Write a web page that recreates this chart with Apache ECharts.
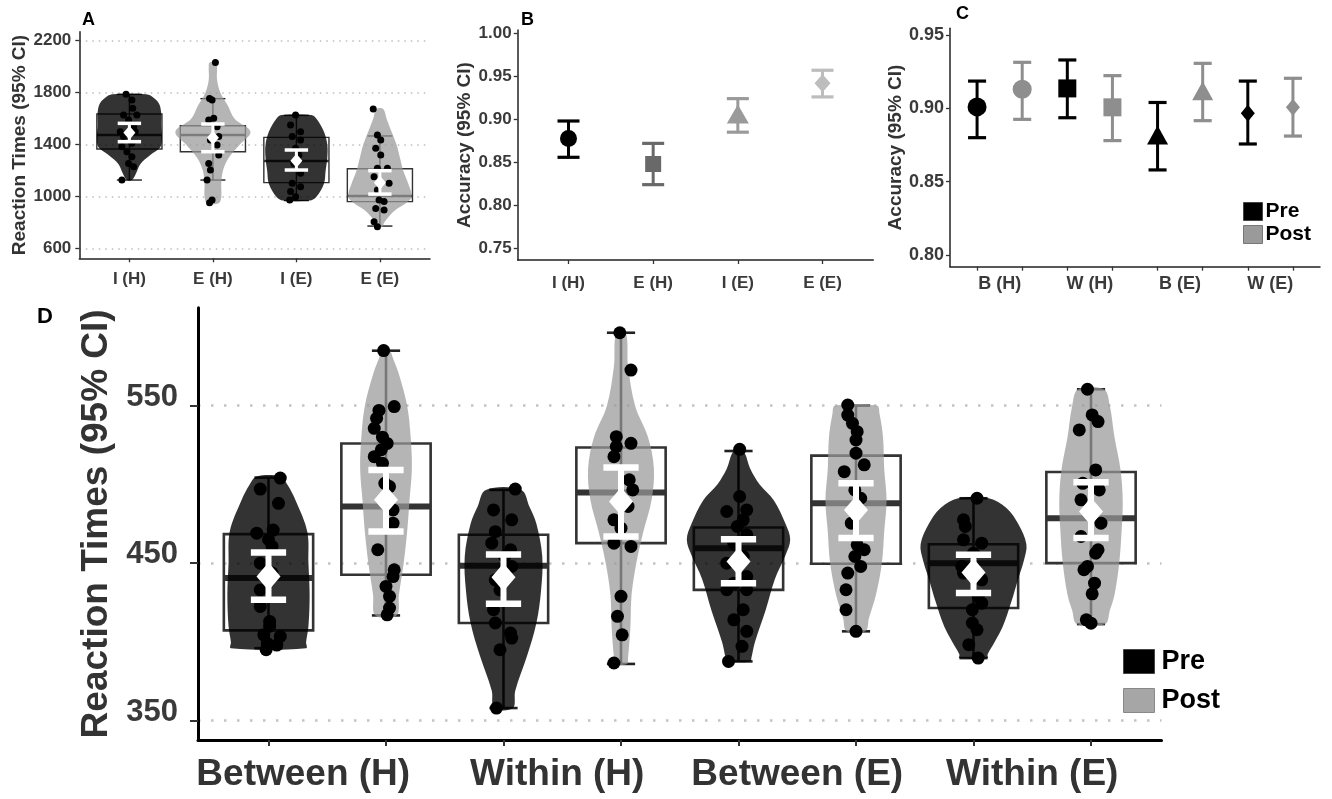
<!DOCTYPE html>
<html><head><meta charset="utf-8">
<script src="https://cdn.jsdelivr.net/npm/echarts@6/dist/echarts.min.js"></script>
<style>html,body{margin:0;padding:0;background:#fff}#c{width:1332px;height:799px}</style>
</head><body><div id="c"></div>
<script>
// ---------------- DATA ----------------
// Panel A
const aCategories = ['I (H)', 'E (H)', 'I (E)', 'E (E)'];
const aYTicks = [600, 1000, 1400, 1800, 2200];
// [q1, median, q3, lowerWhisker, upperWhisker]
const aBoxStats = [
  [1367, 1474, 1636, 1128, 1787],
  [1346, 1474, 1546, 1128, 1754],
  [1108, 1274, 1456, 970, 1625],
  [962, 1005, 1215, 774, 1467]
];
// [mean, ciLow, ciHigh]
const aMeanCI = [
  [1492, 1423, 1564],
  [1454, 1346, 1559],
  [1277, 1205, 1359],
  [1108, 1020, 1200]
];
// violin outline: [value, half width (category units)]
const aViolins = [
  [[1128,0.03],[1180,0.08],[1250,0.13],[1320,0.25],[1380,0.37],[1450,0.39],[1550,0.38],[1650,0.38],[1720,0.35],[1770,0.27],[1787,0.2]],
  [[950,0.07],[1000,0.1],[1100,0.1],[1200,0.12],[1300,0.19],[1400,0.32],[1500,0.45],[1600,0.26],[1700,0.18],[1800,0.09],[1900,0.05],[2000,0.05],[2033,0.04]],
  [[970,0.16],[1000,0.24],[1100,0.33],[1200,0.35],[1300,0.37],[1400,0.37],[1500,0.33],[1600,0.24],[1628,0.18]],
  [[769,0.03],[800,0.05],[850,0.11],[900,0.19],[950,0.31],[1000,0.38],[1100,0.34],[1200,0.28],[1300,0.24],[1400,0.2],[1500,0.14],[1600,0.08],[1674,0.04]]
];
// individual points: [jitter offset, value]
const aPoints = [
  [[-0.04,1787],[0.03,1744],[0.04,1680],[-0.07,1628],[0.09,1628],[-0.01,1590],[0.05,1538],[0.07,1500],[-0.11,1500],[-0.07,1462],[0.03,1410],[-0.09,1385],[-0.03,1346],[0.03,1308],[-0.01,1256],[0.05,1231],[-0.09,1128]],
  [[0.03,2033],[-0.04,1756],[-0.01,1744],[0.01,1603],[-0.05,1590],[0.05,1538],[0.07,1462],[-0.03,1436],[0.05,1398],[0.07,1321],[-0.05,1256],[-0.03,1205],[-0.07,1128],[-0.01,974],[-0.04,954]],
  [[-0.01,1628],[-0.07,1551],[0.05,1500],[-0.05,1462],[0.05,1436],[-0.01,1372],[0.03,1321],[-0.03,1256],[0.05,1180],[-0.05,1103],[0.05,1077],[-0.07,1039],[-0.01,1000],[-0.08,974]],
  [[-0.08,1674],[-0.03,1474],[0.01,1436],[-0.05,1372],[0.01,1321],[-0.03,1218],[0.09,1218],[-0.07,1154],[0.11,1103],[-0.03,1051],[-0.01,974],[0.05,962],[-0.05,910],[0.05,897],[-0.07,808],[-0.03,769]]
];

// Panel B
const bCategories = ['I (H)', 'E (H)', 'I (E)', 'E (E)'];
const bYTicks = [0.75, 0.80, 0.85, 0.90, 0.95, 1.00];
const bMean = [0.8777, 0.848, 0.906, 0.942];
const bLow  = [0.8558, 0.824, 0.885, 0.926];
const bHigh = [0.898, 0.872, 0.924, 0.957];

// Panel C
const cGroups = ['B (H)', 'W (H)', 'B (E)', 'W (E)'];
const cYTicks = [0.80, 0.85, 0.90, 0.95];
const cPreMean  = [0.901, 0.9136, 0.8818, 0.8966];
const cPreLow   = [0.880, 0.8936, 0.858, 0.8757];
const cPreHigh  = [0.9186, 0.933, 0.904, 0.9186];
const cPostMean = [0.913, 0.9007, 0.912, 0.9007];
const cPostLow  = [0.8925, 0.878, 0.8916, 0.8811];
const cPostHigh = [0.9314, 0.9223, 0.9307, 0.9205];

// Panel D  (order: Between(H) Pre, Post, Within(H) Pre, Post, Between(E) Pre, Post, Within(E) Pre, Post)
const dGroups = ['Between (H)', 'Within (H)', 'Between (E)', 'Within (E)'];
const dPhases = ['Pre', 'Post'];
const dYTicks = [350, 450, 550];
const dBoxStats = [
  [407.3, 440.5, 468.4, 396, 504.3],
  [442.6, 485.9, 526, 416.8, 584.9],
  [412, 448.3, 468, 358, 496.5],
  [462.7, 494.8, 523.4, 386, 596.3],
  [433, 459.5, 472.6, 387.6, 521.2],
  [449.6, 488, 518.3, 406.7, 550],
  [421.5, 450, 462, 389.7, 491.2],
  [450, 478.5, 507.9, 411.3, 560.4]
];
const dMeanCI = [
  [441.5, 426.7, 456.8],
  [490.2, 470.1, 509.2],
  [441, 424.2, 455.5],
  [489.1, 466.9, 510.7],
  [451, 437.3, 465.2],
  [483.8, 465.9, 500.7],
  [444.1, 431, 455.3],
  [482.8, 465.9, 501.4]
];
const dViolins = [
  [[396,0.32],[400,0.32],[410,0.34],[430,0.35],[450,0.34],[470,0.33],[490,0.23],[500,0.16],[505,0.1]],
  [[416.8,0.09],[430,0.11],[450,0.15],[470,0.18],[490,0.2],[510,0.22],[530,0.21],[550,0.18],[570,0.11],[580,0.06],[585,0.03]],
  [[358,0.08],[369,0.1],[391,0.2],[412,0.28],[433,0.32],[454,0.33],[475,0.28],[486,0.22],[496.5,0.15]],
  [[386,0.05],[390,0.06],[410,0.08],[430,0.09],[450,0.13],[470,0.19],[490,0.26],[510,0.28],[530,0.23],[550,0.12],[575,0.06],[596.3,0.04]],
  [[387.6,0.1],[390,0.11],[400,0.14],[420,0.23],[440,0.31],[455,0.4],[465,0.44],[475,0.4],[490,0.3],[500,0.18],[510,0.1],[521.2,0.04]],
  [[406.7,0.08],[415,0.11],[430,0.17],[450,0.22],[470,0.24],[490,0.26],[510,0.24],[530,0.23],[545,0.2],[550,0.18]],
  [[389.7,0.12],[392,0.12],[400,0.18],[410,0.25],[425,0.32],[440,0.38],[452,0.43],[462,0.45],[475,0.38],[485,0.28],[491.2,0.13]],
  [[411.3,0.12],[420,0.16],[430,0.2],[450,0.24],[470,0.26],[490,0.27],[510,0.25],[530,0.2],[550,0.16],[560.4,0.11]]
];
const dPoints = [
  [[0.1,504],[-0.07,497],[0.085,488],[-0.1,469],[0.04,471],[0,465],[0.03,460.6],[-0.07,450],[0.03,443.7],[-0.07,433],[-0.07,422.5],[0.01,413],[0.01,410],[-0.04,404.5],[0.1,403.5],[-0.01,399],[0.07,398],[-0.02,395]],
  [[-0.02,585],[0.07,549.4],[-0.06,547],[-0.08,542],[-0.1,535.6],[-0.03,530],[0.01,526],[-0.04,522],[-0.1,517.6],[-0.03,513.4],[-0.01,500.7],[0.03,498.6],[0.06,483.8],[0.06,475.4],[-0.07,458.5],[0.07,445.8],[0.06,441.5],[0,435.2],[0.03,428.9],[0.03,421.5],[0.01,417.2]],
  [[0.1,497],[-0.085,483.8],[0.07,477.5],[-0.07,470],[-0.1,462.7],[0.06,458.5],[0.01,454.2],[0.07,447.9],[-0.07,439.4],[-0.03,433],[-0.085,420.4],[-0.07,412],[0.06,405.6],[0.07,402.4],[-0.03,395],[-0.06,358]],
  [[-0.01,596.3],[0.085,572.6],[-0.04,530.3],[0.085,526.1],[-0.04,524],[-0.06,517.6],[0.07,502.9],[0.1,496.5],[0.06,486],[-0.06,477.5],[0,472.2],[-0.06,462.7],[0.085,460.6],[0,428.9],[-0.03,416.2],[0.01,404.5],[-0.06,386.6]],
  [[0.01,522.3],[0.01,492.3],[0.07,483.8],[-0.1,482.8],[0.04,477.5],[-0.01,473.3],[0.07,468],[-0.04,462.7],[0.04,454.2],[-0.1,450],[0.07,441.5],[-0.04,437.3],[-0.1,433.1],[0.07,433.1],[0.04,420.4],[-0.04,414],[0.07,406.7],[0.03,397.2],[-0.085,387.6]],
  [[-0.07,550.4],[-0.07,544],[-0.03,538.8],[0.01,533.5],[0,528.2],[0,519.8],[0.07,512.4],[-0.1,508.1],[-0.01,496.5],[0.04,491.2],[-0.04,475.4],[0.01,461.6],[0.07,458.5],[-0.01,454.2],[0.04,447.9],[-0.07,443.7],[-0.085,433.1],[-0.085,420.4],[0,406.7]],
  [[0.03,491.2],[-0.085,477.5],[-0.07,473.3],[-0.085,464.8],[0.07,462.7],[0,456.3],[-0.1,447.9],[-0.085,443.7],[0.07,439.4],[0.04,428.9],[0.07,424.6],[-0.01,420.4],[-0.01,412],[0.03,407.7],[-0.04,398.2],[0.04,389.7]],
  [[-0.03,560.4],[0.01,544.1],[0.06,539.9],[-0.1,534.6],[0.04,509.2],[-0.07,500.7],[0.07,496.5],[-0.085,490.2],[0.085,475.4],[-0.085,466.9],[0.06,458.5],[0.04,456.3],[-0.03,447.9],[-0.06,445.8],[0.03,437.3],[0.01,430.5],[-0.04,414],[0,411.9]]
];

// ---------------- STYLE ----------------
const FONT = "'Liberation Sans', Arial, Helvetica, sans-serif";
const DARK_FILL = 'rgba(0,0,0,0.8)';
const LIGHT_FILL = 'rgba(152,152,152,0.72)';
const aIsDark = i => i % 2 === 0;
const dIsDark = i => i % 2 === 0;
const bColors = ['#000000', '#696969', '#9a9a9a', '#bdbdbd'];
const bSymbols = [['circle', 17], ['rect', 16], ['triangle', [22, 19]], ['diamond', [16, 18]]];
const cSymbols = [['circle', 19], ['rect', 18], ['triangle', [21, 19]], ['diamond', [14, 17]]];
const cPreColor = '#000000', cPostColor = '#8e8e8e';
const dLabelShift = [-24, -5, 0, 0];

// ---------------- RENDERERS ----------------
function seg(a, b, stroke, lw) {
  return { type: 'line', shape: { x1: a[0], y1: a[1], x2: b[0], y2: b[1] }, style: { stroke, lineWidth: lw } };
}
function boxRenderer(stats, halfW, capHalf, lw, medW) {
  return function (params, api) {
    const x = api.value(0), i = api.value(2);
    const s = stats[i];
    const tl = api.coord([x - halfW, s[2]]), br = api.coord([x + halfW, s[0]]);
    const children = [
      seg(api.coord([x, s[4]]), api.coord([x, s[3]]), '#222', lw),
      seg(api.coord([x - capHalf, s[4]]), api.coord([x + capHalf, s[4]]), '#222', lw),
      seg(api.coord([x - capHalf, s[3]]), api.coord([x + capHalf, s[3]]), '#222', lw),
      { type: 'rect', shape: { x: tl[0], y: tl[1], width: br[0] - tl[0], height: br[1] - tl[1] },
        style: { fill: 'none', stroke: '#333', lineWidth: lw } },
      seg(api.coord([x - halfW, s[1]]), api.coord([x + halfW, s[1]]), '#333', medW)
    ];
    return { type: 'group', children };
  };
}
function violinRenderer(profiles, fill) {
  return function (params, api) {
    const x = api.value(0), i = api.value(2);
    const prof = profiles[i];
    const pts = [];
    for (let k = 0; k < prof.length; k++) pts.push(api.coord([x + prof[k][1], prof[k][0]]));
    for (let k = prof.length - 1; k >= 0; k--) pts.push(api.coord([x - prof[k][1], prof[k][0]]));
    return { type: 'polygon', shape: { points: pts, smooth: 0.35 }, style: { fill: fill, stroke: null } };
  };
}
function ciRenderer(capHalf, vW, capW, colorFn) {
  return function (params, api) {
    const x = api.value(0), lo = api.value(1), hi = api.value(2), i = api.value(3);
    const c = colorFn(i);
    return { type: 'group', children: [
      seg(api.coord([x, lo]), api.coord([x, hi]), c, vW),
      seg(api.coord([x - capHalf, hi]), api.coord([x + capHalf, hi]), c, capW),
      seg(api.coord([x - capHalf, lo]), api.coord([x + capHalf, lo]), c, capW)
    ] };
  };
}

// ---------------- AXES ----------------
const tickLabel = (size) => ({ fontFamily: FONT, fontWeight: 'bold', fontSize: size, color: '#3a3a3a' });
function xAxisCfg(gridIndex, max, tickVals, labelVals, fmt, o) {
  return {
    type: 'value', gridIndex, min: 0.4, max,
    axisLine: { show: true, onZero: false, lineStyle: { color: o.axisColor, width: o.axisW } },
    axisTick: { show: true, customValues: tickVals, length: o.tickLen, lineStyle: { color: '#333', width: o.tickW } },
    axisLabel: Object.assign({ customValues: labelVals, formatter: fmt, margin: o.margin }, tickLabel(o.font), o.extra || {}),
    splitLine: { show: false }
  };
}
function yAxisCfg(gridIndex, min, max, ticks, fmt, o) {
  return {
    type: 'value', gridIndex, min, max,
    name: o.name, nameLocation: 'middle', nameRotate: 90, nameGap: o.nameGap,
    nameTextStyle: { fontFamily: FONT, fontWeight: 'bold', fontSize: o.nameSize, color: '#333' },
    axisLine: { show: true, onZero: false, lineStyle: { color: o.axisColor, width: o.axisW } },
    axisTick: { show: true, customValues: ticks, length: o.tickLen, lineStyle: { color: '#333', width: o.tickW } },
    axisLabel: Object.assign({ customValues: ticks, formatter: fmt, margin: o.margin }, tickLabel(o.font), o.extra || {}),
    splitLine: o.split ? { show: true, lineStyle: o.split } : { show: false }
  };
}

const catIdx = (v, base, step) => Math.round((v - base) / step);
const dRich = {};
dLabelShift.forEach((s, g) => {
  dRich['s' + g] = { fontFamily: FONT, fontWeight: 'bold', fontSize: 37, color: '#333',
    padding: s < 0 ? [0, -2 * s, 0, 0] : [0, 0, 0, 2 * s] };
});

const option = {
  animation: false,
  backgroundColor: '#fff',
  textStyle: { fontFamily: FONT },
  title: [
    { text: 'A', left: 82, top: 11, padding: 0, textStyle: { fontFamily: FONT, fontWeight: 'bold', fontSize: 18, color: '#000' } },
    { text: 'B', left: 521, top: 11, padding: 0, textStyle: { fontFamily: FONT, fontWeight: 'bold', fontSize: 18, color: '#000' } },
    { text: 'C', left: 956, top: 5, padding: 0, textStyle: { fontFamily: FONT, fontWeight: 'bold', fontSize: 18, color: '#000' } },
    { text: 'D', left: 37, top: 306, padding: 0, textStyle: { fontFamily: FONT, fontWeight: 'bold', fontSize: 22, color: '#000' } }
  ],
  legend: [
    { left: 1243, top: 201, orient: 'vertical', padding: 0, itemGap: 2, itemWidth: 19, itemHeight: 18, icon: 'rect',
      selectedMode: false,
      textStyle: { fontFamily: FONT, fontWeight: 'bold', fontSize: 21, color: '#000', padding: [0, 0, 0, -2] },
      data: [
        { name: dPhases[0], itemStyle: { color: '#000', borderColor: '#444', borderWidth: 1 } },
        { name: dPhases[1], itemStyle: { color: '#9a9a9a', borderColor: '#777', borderWidth: 1 } }
      ] },
    { left: 1123, top: 648, orient: 'vertical', padding: 0, itemGap: 12, itemWidth: 31, itemHeight: 24, icon: 'rect',
      selectedMode: false,
      textStyle: { fontFamily: FONT, fontWeight: 'bold', fontSize: 27, color: '#000', padding: [0, 0, 0, 2] },
      data: [
        { name: dPhases[0], itemStyle: { color: '#000', borderColor: '#444', borderWidth: 1 } },
        { name: dPhases[1], itemStyle: { color: '#a6a6a6', borderColor: '#888', borderWidth: 1 } }
      ] }
  ],
  grid: [
    { left: 79.3, top: 31.7, width: 350.7, height: 226.6 },
    { left: 517.7, top: 30, width: 355.6, height: 230 },
    { left: 950, top: 28.3, width: 370, height: 238.4 },
    { left: 198, top: 307.7, width: 963.5, height: 432.3 }
  ],
  xAxis: [
    xAxisCfg(0, 4.6, [1, 2, 3, 4], [1, 2, 3, 4], v => aCategories[Math.round(v) - 1],
      { axisColor: '#222', axisW: 1.5, tickLen: 4, tickW: 1.3, margin: 13, font: 17 }),
    xAxisCfg(1, 4.6, [1, 2, 3, 4], [1, 2, 3, 4], v => bCategories[Math.round(v) - 1],
      { axisColor: '#222', axisW: 1.5, tickLen: 4, tickW: 1.3, margin: 15, font: 17 }),
    xAxisCfg(2, 8.6, [1, 2, 3, 4, 5, 6, 7, 8], [1.5, 3.5, 5.5, 7.5], v => cGroups[catIdx(v, 1.5, 2)],
      { axisColor: '#222', axisW: 1.5, tickLen: 4, tickW: 1.3, margin: 8, font: 18 }),
    xAxisCfg(3, 8.6, [1, 2, 3, 4, 5, 6, 7, 8], [1.5, 3.5, 5.5, 7.5],
      v => { const g = catIdx(v, 1.5, 2); return '{s' + g + '|' + dGroups[g] + '}'; },
      { axisColor: '#000', axisW: 3, tickLen: 6, tickW: 2, margin: 16, font: 37, extra: { color: '#333', rich: dRich } })
  ],
  yAxis: [
    yAxisCfg(0, 526, 2269, aYTicks, v => String(v),
      { name: 'Reaction Times (95% CI)', nameGap: 46, nameSize: 19, axisColor: '#222', axisW: 1.5, tickLen: 4, tickW: 1.3, margin: 8, font: 17,
        split: { color: '#bdbdbd', width: 1.5, type: [1.5, 5] } }),
    yAxisCfg(1, 0.7364, 1.0038, bYTicks, v => v.toFixed(2),
      { name: 'Accuracy (95% CI)', nameGap: 37, nameSize: 19, axisColor: '#222', axisW: 1.5, tickLen: 4, tickW: 1.3, margin: 6, font: 17 }),
    yAxisCfg(2, 0.792, 0.9546, cYTicks, v => v.toFixed(2),
      { name: 'Accuracy (95% CI)', nameGap: 36, nameSize: 19, axisColor: '#222', axisW: 1.5, tickLen: 4, tickW: 1.3, margin: 6, font: 18 }),
    yAxisCfg(3, 337.7, 612.2, dYTicks, v => '{t|' + v + '}',
      { name: 'Reaction Times (95% CI)', nameGap: 79, nameSize: 37, axisColor: '#000', axisW: 3, tickLen: 8, tickW: 2, margin: 20, font: 31,
        extra: { rich: { t: { fontFamily: FONT, fontWeight: 'bold', fontSize: 31, color: '#3a3a3a', padding: [0, 0, 17, 0] } } },
        split: { color: '#c4c4c4', width: 2.5, type: [2.5, 10.5] } })
  ],
  series: []
};

// ---------------- SERIES: panel A ----------------
const aItems = aBoxStats.map((s, i) => [i + 1, s[1], i]);
option.series.push(
  { type: 'custom', name: 'A boxes', xAxisIndex: 0, yAxisIndex: 0, z: 2, clip: false,
    encode: { x: 0, y: 1 }, data: aItems, renderItem: boxRenderer(aBoxStats, 0.39, 0.15, 1.4, 2.6) },
  { type: 'custom', name: 'A violins dark', xAxisIndex: 0, yAxisIndex: 0, z: 3, clip: false,
    encode: { x: 0, y: 1 }, data: aItems.filter(d => aIsDark(d[2])), renderItem: violinRenderer(aViolins, DARK_FILL) },
  { type: 'custom', name: 'A violins light', xAxisIndex: 0, yAxisIndex: 0, z: 3, clip: false,
    encode: { x: 0, y: 1 }, data: aItems.filter(d => !aIsDark(d[2])), renderItem: violinRenderer(aViolins, LIGHT_FILL) },
  { type: 'scatter', name: 'A points', xAxisIndex: 0, yAxisIndex: 0, z: 4, symbolSize: 7,
    itemStyle: { color: '#000', opacity: 1 },
    data: aPoints.flatMap((g, i) => g.map(p => [i + 1 + p[0], p[1]])) },
  { type: 'custom', name: 'A CI', xAxisIndex: 0, yAxisIndex: 0, z: 5, clip: false, encode: { x: 0, y: 1 },
    data: aMeanCI.map((m, i) => [i + 1, m[1], m[2], i]), renderItem: ciRenderer(0.14, 3, 3.5, () => '#fff') },
  { type: 'scatter', name: 'A mean', xAxisIndex: 0, yAxisIndex: 0, z: 6, symbol: 'diamond', symbolSize: [12, 14],
    itemStyle: { color: '#fff', opacity: 1 }, data: aMeanCI.map((m, i) => [i + 1, m[0]]) }
);

// ---------------- SERIES: panel B ----------------
option.series.push(
  { type: 'custom', name: 'B CI', xAxisIndex: 1, yAxisIndex: 1, z: 3, clip: false, encode: { x: 0, y: 1 },
    data: bMean.map((m, i) => [i + 1, bLow[i], bHigh[i], i]), renderItem: ciRenderer(0.13, 3, 3.2, i => bColors[i]) },
  { type: 'scatter', name: 'B mean', xAxisIndex: 1, yAxisIndex: 1, z: 4,
    data: bMean.map((m, i) => ({ value: [i + 1, m], symbol: bSymbols[i][0], symbolSize: bSymbols[i][1],
      itemStyle: { color: bColors[i], opacity: 1 } })) }
);

// ---------------- SERIES: panel C ----------------
option.series.push(
  { type: 'custom', name: dPhases[0], xAxisIndex: 2, yAxisIndex: 2, z: 3, clip: false, encode: { x: 0, y: 1 },
    itemStyle: { color: cPreColor },
    data: cPreMean.map((m, g) => [2 * g + 1, cPreLow[g], cPreHigh[g], g]), renderItem: ciRenderer(0.2, 3, 3.2, () => cPreColor) },
  { type: 'custom', name: dPhases[1], xAxisIndex: 2, yAxisIndex: 2, z: 3, clip: false, encode: { x: 0, y: 1 },
    itemStyle: { color: cPostColor },
    data: cPostMean.map((m, g) => [2 * g + 2, cPostLow[g], cPostHigh[g], g]), renderItem: ciRenderer(0.2, 3, 3.2, () => cPostColor) },
  { type: 'scatter', name: dPhases[0], xAxisIndex: 2, yAxisIndex: 2, z: 4, itemStyle: { color: cPreColor, opacity: 1 },
    data: cPreMean.map((m, g) => ({ value: [2 * g + 1, m], symbol: cSymbols[g][0], symbolSize: cSymbols[g][1] })) },
  { type: 'scatter', name: dPhases[1], xAxisIndex: 2, yAxisIndex: 2, z: 4, itemStyle: { color: cPostColor, opacity: 1 },
    data: cPostMean.map((m, g) => ({ value: [2 * g + 2, m], symbol: cSymbols[g][0], symbolSize: cSymbols[g][1] })) }
);

// ---------------- SERIES: panel D ----------------
const dItems = dBoxStats.map((s, i) => [i + 1, s[1], i]);
option.series.push(
  { type: 'custom', name: 'D boxes', xAxisIndex: 3, yAxisIndex: 3, z: 2, clip: false,
    encode: { x: 0, y: 1 }, data: dItems, renderItem: boxRenderer(dBoxStats, 0.38, 0.12, 2.6, 6) },
  { type: 'custom', name: dPhases[0], xAxisIndex: 3, yAxisIndex: 3, z: 3, clip: false, itemStyle: { color: '#000' },
    encode: { x: 0, y: 1 }, data: dItems.filter(d => dIsDark(d[2])), renderItem: violinRenderer(dViolins, DARK_FILL) },
  { type: 'custom', name: dPhases[1], xAxisIndex: 3, yAxisIndex: 3, z: 3, clip: false, itemStyle: { color: '#a6a6a6' },
    encode: { x: 0, y: 1 }, data: dItems.filter(d => !dIsDark(d[2])), renderItem: violinRenderer(dViolins, LIGHT_FILL) },
  { type: 'scatter', name: 'D points', xAxisIndex: 3, yAxisIndex: 3, z: 4, symbolSize: 13,
    itemStyle: { color: '#000', opacity: 1 },
    data: dPoints.flatMap((g, i) => g.map(p => [i + 1 + p[0], p[1]])) },
  { type: 'custom', name: 'D CI', xAxisIndex: 3, yAxisIndex: 3, z: 5, clip: false, encode: { x: 0, y: 1 },
    data: dMeanCI.map((m, i) => [i + 1, m[1], m[2], i]), renderItem: ciRenderer(0.15, 6, 6.5, () => '#fff') },
  { type: 'scatter', name: 'D mean', xAxisIndex: 3, yAxisIndex: 3, z: 6, symbol: 'diamond', symbolSize: [24, 28],
    itemStyle: { color: '#fff', opacity: 1 }, data: dMeanCI.map((m, i) => [i + 1, m[0]]) }
);

const chart = echarts.init(document.getElementById('c'), null, { renderer: 'canvas', width: 1332, height: 799 });
chart.setOption(option);
</script>
</body></html>
